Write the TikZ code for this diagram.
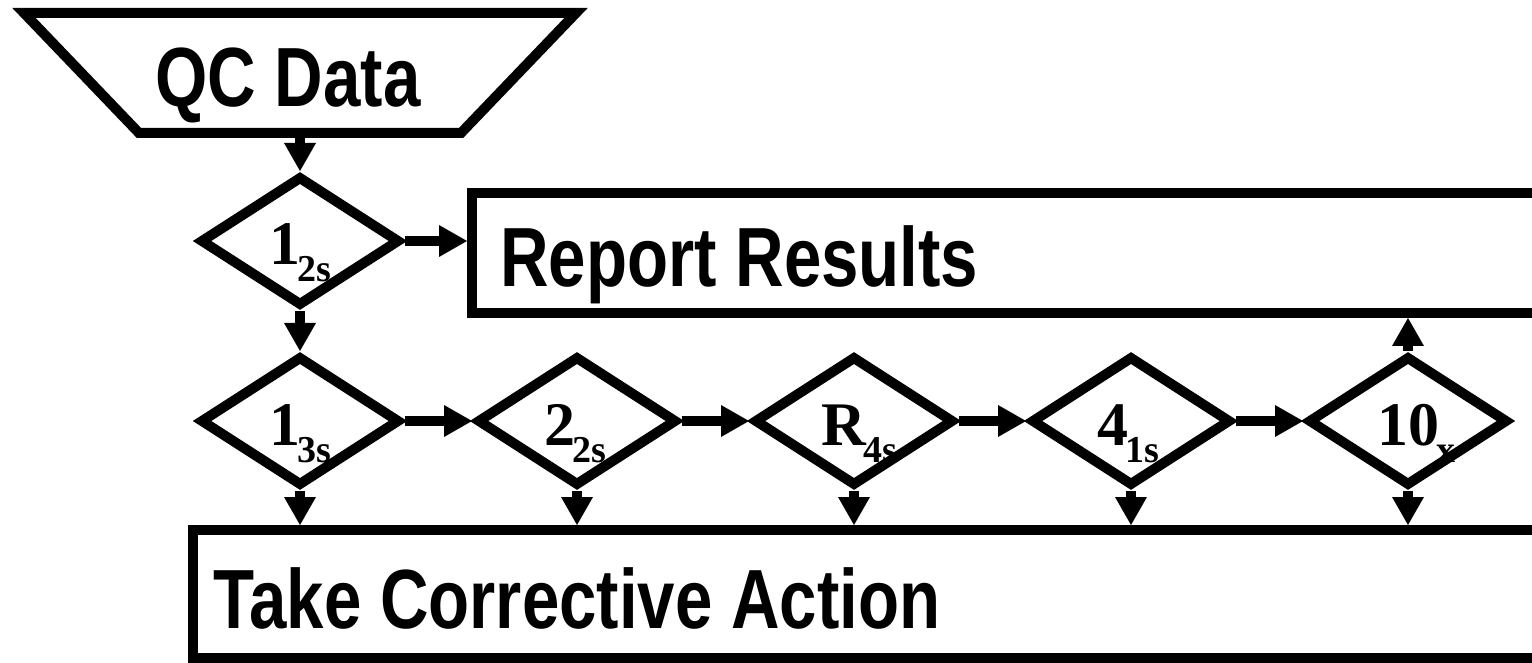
\documentclass[tikz,border=0pt]{standalone}
\usepackage{fontspec}
\setmainfont{Liberation Serif}
\newfontfamily\narrowsans[FakeStretch=0.8]{Liberation Sans}
\usetikzlibrary{shapes.geometric,arrows.meta}

% rule name: bold main symbol with a lowered subscript
\newcommand\qcrule[2]{{\fontsize{31pt}{31pt}\selectfont\bfseries #1}\kern-1.5pt\raisebox{-8.5pt}{\fontsize{19pt}{19pt}\selectfont\bfseries #2}}

\begin{document}
\begin{tikzpicture}[x=0.5pt,y=-0.5pt,
  outline/.style={draw=black,line width=5pt},
  rulebox/.style={outline,diamond,minimum width=100pt,minimum height=65pt,inner sep=0pt},
  actionbox/.style={outline,rectangle,inner sep=0pt},
  title/.style={font=\narrowsans\bfseries\fontsize{42pt}{42pt}\selectfont,
    inner sep=0pt,anchor=base west},
  rulelabel/.style={inner sep=0pt,anchor=base west},
  flow/.style={line width=5pt,-{Triangle[length=14pt,width=16pt,line width=0pt]}}
]
\useasboundingbox (0,0) rectangle (1532,663);
\clip (0,0) rectangle (1532,663);

% input: inverted trapezoid
\draw[outline] (24,13) -- (576,13) -- (461,133) -- (139,133) -- cycle;
\coordinate (qcbase) at (300,133);
\node[title] (qctext) at (155,107) {QC Data};

% outcome boxes
\node[actionbox,minimum width=554pt,minimum height=60pt] (report) at (1026,253) {};
\node[title] (reporttext) at (500,287) {Report Results};
\node[actionbox,minimum width=693.5pt,minimum height=64pt] (take) at (886.5,594) {};
\node[title] (taketext) at (213,628) {Take Corrective Action};

% warning rule
\node[rulebox] (r12) at (300,241) {};
\node[rulelabel] (r12t) at (269,265) {\qcrule{1}{2s}};

% rejection rules
\node[rulebox] (r13) at (300,421) {};
\node[rulebox] (r22) at (577,421) {};
\node[rulebox] (r4s) at (854,421) {};
\node[rulebox] (r41) at (1131,421) {};
\node[rulebox] (r10) at (1408,421) {};
\node[rulelabel] (r13t) at (269,445) {\qcrule{1}{3s}};
\node[rulelabel] (r22t) at (544,445) {\qcrule{2}{2s}};
\node[rulelabel] (r4st) at (821,445) {\qcrule{R}{4s}};
\node[rulelabel] (r41t) at (1097,445) {\qcrule{4}{1s}};
\node[rulelabel] (r10t) at (1377,445) {\qcrule{10}{x}};

% connectors
\draw[flow] (qcbase) -- (r12.north);
\draw[flow] (r12.east) -- (r12.east -| report.west);
\draw[flow] (r12.south) -- (r13.north);
\draw[flow] (r13.east) -- (r22.west);
\draw[flow] (r22.east) -- (r4s.west);
\draw[flow] (r4s.east) -- (r41.west);
\draw[flow] (r41.east) -- (r10.west);
\draw[flow] (r10.north) -- (r10.north |- report.south);
\foreach \d in {r13,r22,r4s,r41,r10}
  \draw[flow] (\d.south) -- (\d.south |- take.north);
\end{tikzpicture}
\end{document}
